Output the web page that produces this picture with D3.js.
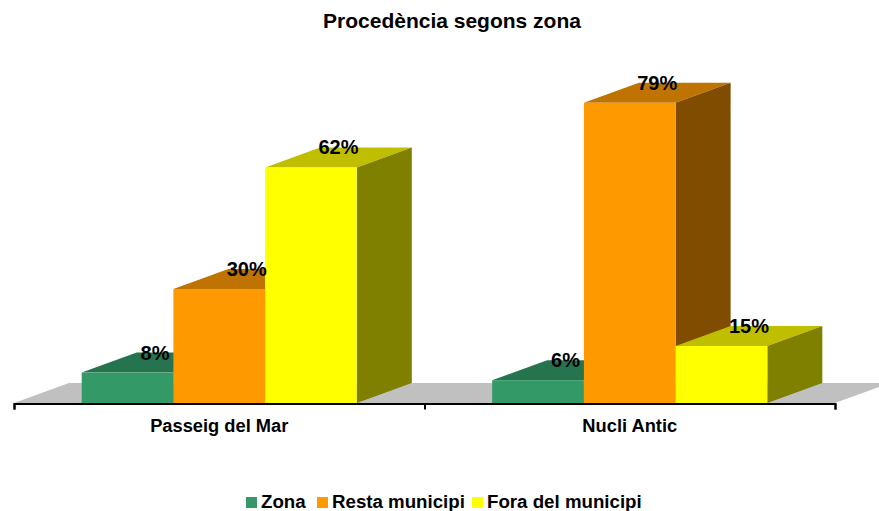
<!DOCTYPE html>
<meta charset="utf-8">
<body style="margin:0;background:#fff">
<style>
  text { font-family: "Liberation Sans", Arial, sans-serif; font-weight: bold; fill: #000; }
  .title { font-size: 21px; }
  .cat { font-size: 18.3px; }
  .lbl { font-size: 20px; }
  .legend { font-size: 18.7px; }
</style>
<svg width="879" height="511"></svg>
<script src="https://d3js.org/d3.v7.min.js"></script>
<script>

// Data
var categories = ["Passeig del Mar", "Nucli Antic"];
var seriesNames = ["Zona", "Resta municipi", "Fora del municipi"];
var zona = [8, 6];
var restaMunicipi = [30, 79];
var foraMunicipi = [62, 15];

var values = [zona, restaMunicipi, foraMunicipi];
var frontColors = ["#339966", "#ff9900", "#ffff00"];
var topColors = ["#267350", "#bf7300", "#bfbf00"];
var sideColors = ["#1a4d33", "#804c00", "#808000"];

var svg = d3.select("svg");

// 3d depth offset
var dx = 55, dy = 20;
var baseY = 403;

var x = d3.scaleBand()
    .domain(categories)
    .range([14, 835]);

var xs = d3.scaleBand()
    .domain(seriesNames)
    .range([0, x.bandwidth()])
    .paddingOuter(0.738);

var y = d3.scaleLinear()
    .domain([0, 100])
    .range([baseY, baseY - 380]);

// title
svg.append("text")
    .attr("class", "title")
    .attr("x", 452)
    .attr("y", 28)
    .attr("text-anchor", "middle")
    .text("Procedència segons zona");

// floor
var fx0 = x.range()[0], fx1 = x.range()[1];
svg.append("polygon")
    .attr("points", [[fx0, baseY], [fx1, baseY], [fx1 + dx, baseY - dy], [fx0 + dx, baseY - dy]].join(" "))
    .attr("fill", "#c0c0c0");

// bars
var g = svg.append("g");
categories.forEach(function(c, i) {
  seriesNames.forEach(function(s, j) {
    var x0 = x(c) + xs(s), x1 = x0 + xs.bandwidth();
    var yt = y(values[j][i]);
    g.append("polygon")
        .attr("points", [[x0, yt], [x1, yt], [x1 + dx, yt - dy], [x0 + dx, yt - dy]].join(" "))
        .attr("fill", topColors[j]);
    g.append("polygon")
        .attr("points", [[x1, yt], [x1 + dx, yt - dy], [x1 + dx, baseY - dy], [x1, baseY]].join(" "))
        .attr("fill", sideColors[j]);
    g.append("rect")
        .attr("x", x0)
        .attr("y", yt)
        .attr("width", xs.bandwidth())
        .attr("height", baseY - yt)
        .attr("fill", frontColors[j]);
  });
});

// value labels
categories.forEach(function(c, i) {
  seriesNames.forEach(function(s, j) {
    var cx = x(c) + xs(s) + xs.bandwidth() / 2 + dx / 2;
    var cy = y(values[j][i]) - dy / 2;
    svg.append("text")
        .attr("class", "lbl")
        .attr("x", cx)
        .attr("y", cy - 3)
        .attr("text-anchor", "middle")
        .text(values[j][i] + "%");
  });
});

// axis
var tickScale = d3.scaleLinear().domain([0, categories.length]).range(x.range());
svg.append("g")
    .attr("transform", "translate(0," + (baseY + 0.5) + ")")
    .call(d3.axisBottom(tickScale).ticks(categories.length).tickSize(6).tickSizeOuter(6).tickFormat(""))
    .call(function(a) {
      a.select(".domain").attr("stroke", "#000").attr("stroke-width", 2);
      a.selectAll(".tick line").attr("stroke", "#000").attr("stroke-width", 2);
    });

svg.selectAll(".cat")
    .data(categories)
    .enter().append("text")
    .attr("class", "cat")
    .attr("x", function(d) { return x(d) + x.bandwidth() / 2; })
    .attr("y", 432)
    .attr("text-anchor", "middle")
    .text(function(d) { return d; });

// legend
var legendX = [246, 317, 472];
var lg = svg.append("g").attr("class", "legend");
seriesNames.forEach(function(s, j) {
  lg.append("rect")
      .attr("x", legendX[j])
      .attr("y", 497)
      .attr("width", 11)
      .attr("height", 11)
      .attr("fill", frontColors[j]);
  lg.append("text")
      .attr("x", legendX[j] + 15)
      .attr("y", 508)
      .text(s);
});

</script>
</body>
